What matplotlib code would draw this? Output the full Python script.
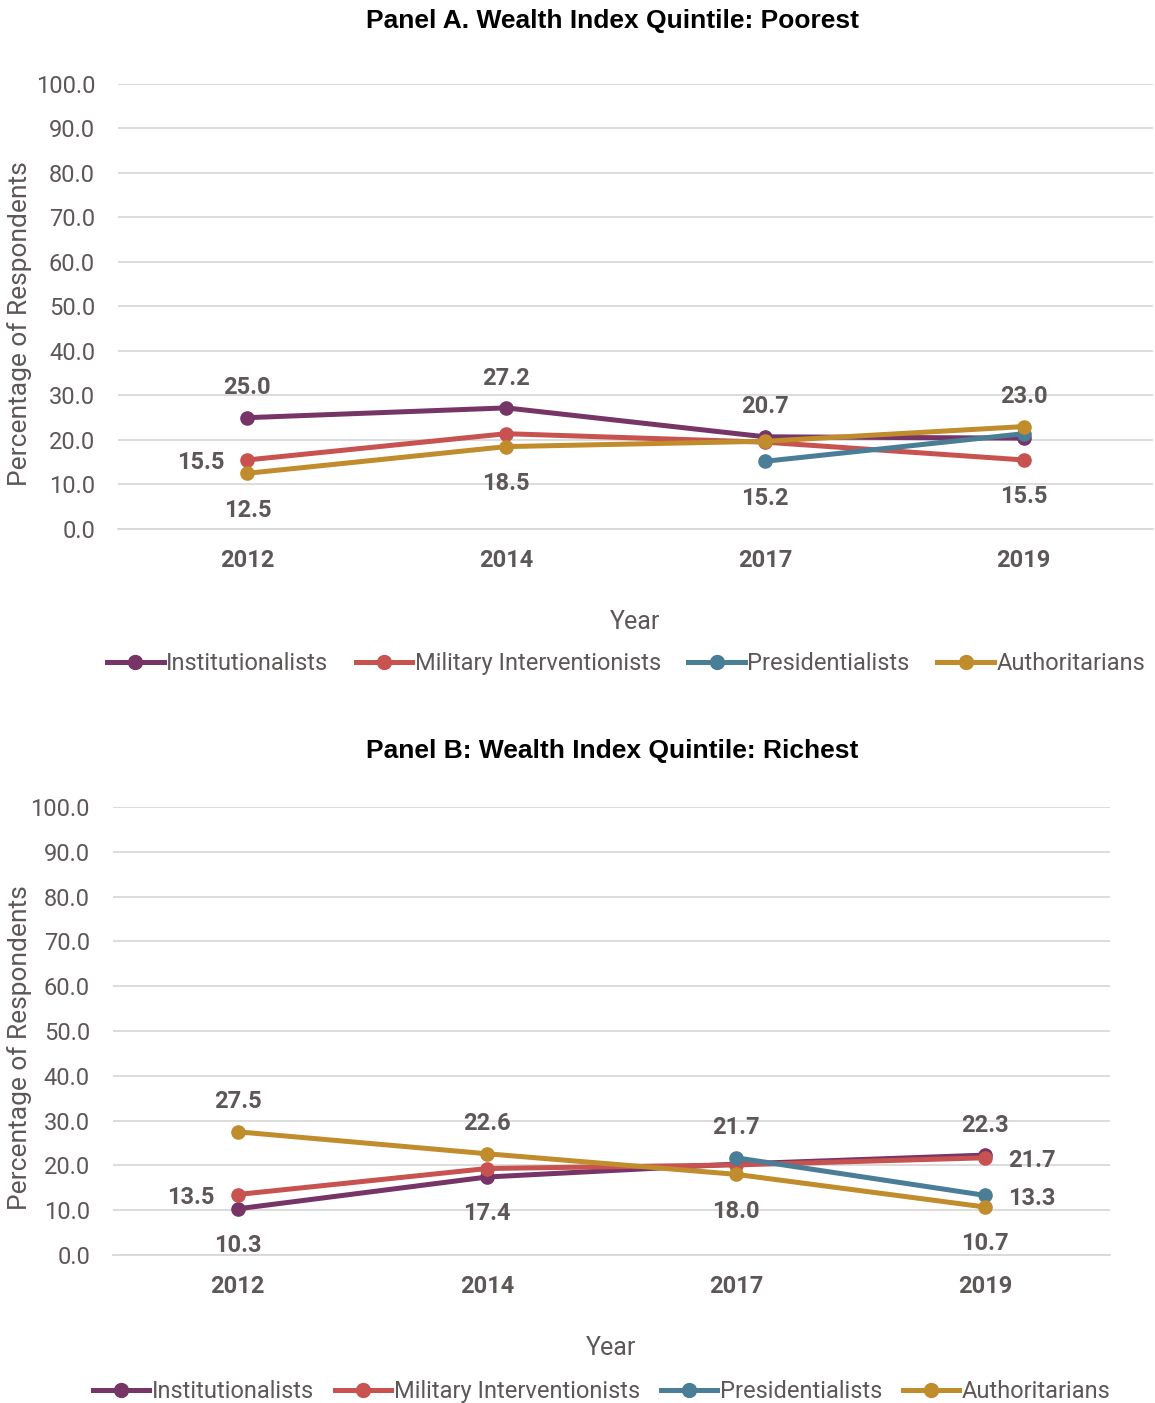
import numpy as np
import matplotlib
matplotlib.use("Agg")
import matplotlib.pyplot as plt
from matplotlib.lines import Line2D

# data
years = ["2012", "2014", "2017", "2019"]
series_names = ["Institutionalists", "Military Interventionists", "Presidentialists", "Authoritarians"]

poorest_inst = [25.0, 27.2, 20.7, 20.4]
poorest_mil = [15.5, 21.4, 19.5, 15.5]
poorest_pres = [np.nan, np.nan, 15.2, 21.4]
poorest_auth = [12.5, 18.5, 19.7, 23.0]

richest_inst = [10.3, 17.4, 20.3, 22.3]
richest_mil = [13.5, 19.3, 20.1, 21.7]
richest_pres = [np.nan, np.nan, 21.7, 13.3]
richest_auth = [27.5, 22.6, 18.0, 10.7]

# which points get a value label, and where (series index, year index, side)
poorest_labels = [(0, 0, "above"), (0, 1, "above"), (0, 2, "above"),
                  (1, 0, "left"), (1, 3, "below"),
                  (2, 2, "below"),
                  (3, 0, "below"), (3, 1, "below"), (3, 3, "above")]
richest_labels = [(0, 0, "below"), (0, 1, "below"), (0, 3, "above"),
                  (1, 0, "left"), (1, 3, "right"),
                  (2, 2, "above"), (2, 3, "right"),
                  (3, 0, "above"), (3, 1, "above"), (3, 2, "below"), (3, 3, "below")]

colors = ["#773466", "#C85250", "#4A7D96", "#C08C2C"]
text_col = "#5E5757"
grid_col = "#D9D9D9"

plt.rcParams["font.family"] = ["Roboto", "DejaVu Sans"]

fig = plt.figure(figsize=(11.55, 14.03), dpi=100)

offsets = {"above": (0, 21.5, "center", "center"),
           "below": (0, -26.5, "center", "center"),
           "left": (-16.5, -2, "right", "center"),
           "right": (16.5, -2, "left", "center")}


def draw_panel(rect, title, title_y, data, labels, legend_xy, col_space):
    ax = fig.add_axes(rect)
    x = np.arange(len(years))
    for i, vals in enumerate(data):
        ax.plot(x, vals, color=colors[i], lw=3.6, marker="o", ms=9.5,
                solid_capstyle="round", zorder=3 + i)
    for si, yi, side in labels:
        dx, dy, ha, va = offsets[side]
        ax.annotate(f"{data[si][yi]:.1f}", (x[yi], data[si][yi]), xytext=(dx, dy),
                    textcoords="offset points", ha=ha, va=va, fontsize=17,
                    fontweight="bold", color=text_col, zorder=10)
    ax.set_xlim(-0.5, len(years) - 0.5)
    ax.set_ylim(0, 100)
    ax.set_yticks(np.arange(0, 101, 10))
    ax.set_yticklabels([f"{v:.1f}" for v in np.arange(0, 101, 10)])
    ax.set_xticks(x)
    ax.set_xticklabels(years, fontweight="bold")
    ax.grid(axis="y", color=grid_col, lw=1.3)
    ax.set_axisbelow(True)
    for s in ["top", "left", "right"]:
        ax.spines[s].set_visible(False)
    ax.spines["bottom"].set_color(grid_col)
    ax.spines["bottom"].set_linewidth(1.3)
    ax.tick_params(axis="y", length=0, pad=16.5, labelsize=17, labelcolor=text_col)
    ax.tick_params(axis="x", length=0, pad=14.5, labelsize=17, labelcolor=text_col)
    ax.set_xlabel("Year", fontsize=18, color=text_col, labelpad=27)
    ax.set_ylabel("Percentage of Respondents", fontsize=19, color=text_col)
    fig.text(0.53, title_y, title, ha="center", va="center", fontsize=19,
             fontweight="bold", family="Liberation Sans", color="black")
    handles = [Line2D([], [], color=c, lw=3.6, marker="o", ms=10) for c in colors]
    fig.legend(handles, series_names, loc="center", bbox_to_anchor=legend_xy, ncol=4,
               frameon=False, fontsize=17, labelcolor=text_col, handlelength=2.4,
               handletextpad=0.1, columnspacing=col_space)
    return ax


ax1 = draw_panel([0.1022, 0.6230, 0.8961, 0.3172], "Panel A. Wealth Index Quintile: Poorest", 0.985,
                 [poorest_inst, poorest_mil, poorest_pres, poorest_auth], poorest_labels,
                 (0.542, 0.5268), 1.17)
ax1.yaxis.set_label_coords(-0.083, 0.461)

ax2 = draw_panel([0.0978, 0.1055, 0.8632, 0.3193], "Panel B: Wealth Index Quintile: Richest", 0.4647,
                 [richest_inst, richest_mil, richest_pres, richest_auth], richest_labels,
                 (0.5208, 0.0079), 0.88)
ax2.yaxis.set_label_coords(-0.081, 0.462)

fig.savefig("out.png", dpi=100)
